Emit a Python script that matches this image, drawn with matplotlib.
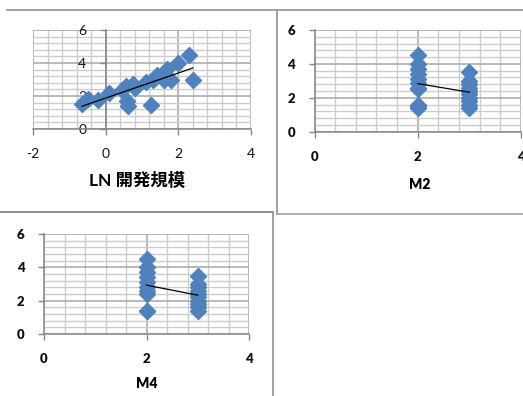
import numpy as np
import matplotlib ; matplotlib.use('Agg')
from matplotlib import pyplot as plt
from matplotlib.ticker import MultipleLocator
from matplotlib.lines import Line2D

plt.rcParams['font.family'] = ['Lato', 'Noto Sans CJK JP', 'DejaVu Sans']
plt.rcParams['axes.unicode_minus'] = False

# Data: response vs. LN(development size), M2 and M4
ln_size = [-0.65, -0.5, -0.22, 0.1, 0.45, 0.55, 0.6, 0.62, 0.75, 0.8,
           1.1, 1.25, 1.3, 1.4, 1.6, 1.7, 1.8, 2.0, 2.3, 2.4]
y_ln = [1.5, 1.8, 1.75, 2.2, 2.35, 2.6, 1.7, 1.4, 2.75, 2.5,
        2.85, 1.45, 3.0, 3.3, 3.0, 3.65, 2.95, 4.0, 4.5, 2.95]

m2 = [2]*11 + [3]*10
y_m2 = [4.5, 4.0, 3.7, 3.4, 3.1, 2.9, 2.6, 2.5, 1.6, 1.5, 1.4,
        3.5, 3.0, 2.8, 2.6, 2.4, 2.2, 2.0, 1.8, 1.6, 1.4]

m4 = [2]*10 + [3]*10
y_m4 = [4.5, 4.0, 3.7, 3.4, 3.1, 2.8, 2.6, 2.4, 1.4, 1.4,
        3.5, 3.0, 2.8, 2.6, 2.4, 2.2, 2.0, 1.8, 1.6, 1.4]

blue = '#4F81BD'
axcol = '#868686'

W, H = 523, 396
fig = plt.figure(figsize=(W/100., H/100.), dpi=100)

def px(x0, y0, x1, y1):
    # pixel box -> figure fraction rect
    return [x0/W, 1-y1/H, (x1-x0)/W, (y1-y0)/H]

def panel(rect, x, y, xlim, xlabel, lab_xy, fs, lfs, lw_):
    ax = fig.add_axes(rect)
    ax.set_xlim(xlim) ; ax.set_ylim(0, 6)
    ax.xaxis.set_major_locator(MultipleLocator(2))
    ax.xaxis.set_minor_locator(MultipleLocator(0.4))
    ax.yaxis.set_major_locator(MultipleLocator(2))
    ax.yaxis.set_minor_locator(MultipleLocator(0.4))
    ax.set_axisbelow(True)
    ax.grid(which='minor', color='#cccccc', lw=1.0)
    ax.grid(which='major', color='#a6a6a6', lw=1.1)
    for s in ('top', 'right'):
        ax.spines[s].set_visible(False)
    ax.spines['left'].set_position(('data', 0))
    for s in ('left', 'bottom'):
        ax.spines[s].set_color(axcol) ; ax.spines[s].set_linewidth(1.1)
    ax.tick_params(which='major', length=4, width=1, color=axcol,
                   labelsize=fs, pad=10, labelcolor='#111111')
    ax.tick_params(which='minor', length=0)
    ax.plot(x, y, ls='none', marker='D', ms=8, color=blue,
            mec=blue, clip_on=False, zorder=3)
    # linear trend line over the data range
    k, b = np.polyfit(x, y, 1)
    xt = np.array([min(x), max(x)])
    ax.plot(xt, k*xt + b, color='black', lw=0.9, zorder=4)
    ax.set_xlabel(xlabel, fontsize=lfs, fontweight=lw_)
    ax.xaxis.set_label_coords(*lab_xy)
    ax.xaxis.label.set_va('center')
    return ax

ax1 = panel(px(33, 30, 251, 129), ln_size, y_ln, (-2, 4), 'LN 開発規模',
            (0.477, -0.525), 10, 12.5, 'bold')
ax2 = panel(px(314.5, 30, 521, 131.7), m2, y_m2, (0, 4), 'M2',
            (0.511, -0.524), 9.5, 10, 'heavy')
ax3 = panel(px(44, 234, 249, 334), m4, y_m4, (0, 4), 'M4',
            (0.502, -0.5), 9.5, 10, 'heavy')

# chart frames
def seg(xs, ys, c='#9a9a9a'):
    fig.add_artist(Line2D([v/W for v in xs], [1-v/H for v in ys],
                          color=c, lw=1.3))

seg([7, 523], [9.5, 9.5])
seg([276.5, 276.5], [9.5, 214])
seg([276.5, 523], [214, 214], '#a8a8a8')
seg([0, 272.7], [212, 212], '#888888')
seg([272.7, 272.7], [212, 396])

# tick labels of the M2 / M4 charts are heavier (ticks exist only after a draw)
fig.canvas.draw()
for ax in (ax2, ax3):
    for t in ax.get_xticklabels() + ax.get_yticklabels():
        t.set_fontweight('heavy')

plt.savefig('out.png', dpi=100)
